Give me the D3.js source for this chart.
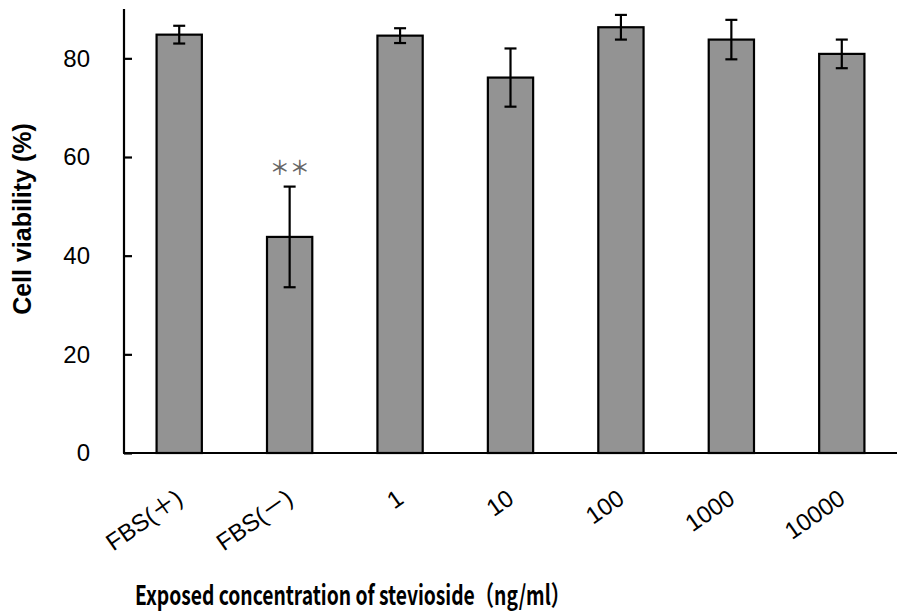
<!DOCTYPE html>
<html>
<head>
<meta charset="utf-8">
<script src="https://cdn.jsdelivr.net/npm/d3@7"></script>
<style>
  body { margin: 0; background: #fff; }
  svg { display: block; }
</style>
</head>
<body>
<svg></svg>
<script>
const size = {w: 897, h: 613};
const svg = d3.select('svg').attr('width', size.w).attr('height', size.h);

// data
const categories = ['FBS(＋)', 'FBS(－)', '1', '10', '100', '1000', '10000'];
const viability = [84.8, 43.8, 84.6, 76.1, 86.3, 83.8, 80.9];
const errors = [1.8, 10.2, 1.5, 5.9, 2.5, 4.0, 2.9];
const yTicks = [0, 20, 40, 60, 80];
const marks = ['', '＊＊', '', '', '', '', ''];

const data = categories.map((c, i) => ({cat: c, v: viability[i], e: errors[i], mark: marks[i]}));

// scales
const x = d3.scaleBand()
    .domain(categories)
    .range([124, 897])
    .paddingInner(0.59)
    .paddingOuter(0.295);

const y = d3.scaleLinear()
    .domain([0, 90])
    .range([453, 9]);

const g = svg.append('g');

// bars
g.selectAll('rect.bar')
    .data(data)
    .join('rect')
    .classed('bar', true)
    .attr('x', d => x(d.cat))
    .attr('y', d => y(d.v))
    .attr('width', x.bandwidth())
    .attr('height', d => y(0) - y(d.v))
    .attr('fill', '#939393')
    .attr('stroke', '#000')
    .attr('stroke-width', 2.2);

// error bars
const errG = g.selectAll('g.err')
    .data(data)
    .join('g')
    .classed('err', true)
    .attr('stroke', '#000')
    .attr('stroke-width', 2.2);

errG.append('line')
    .attr('x1', d => x(d.cat) + x.bandwidth() / 2)
    .attr('x2', d => x(d.cat) + x.bandwidth() / 2)
    .attr('y1', d => y(d.v + d.e))
    .attr('y2', d => y(d.v - d.e));

errG.selectAll('line.cap')
    .data(d => [d.v + d.e, d.v - d.e].map(v => ({cat: d.cat, v: v})))
    .join('line')
    .classed('cap', true)
    .attr('x1', d => x(d.cat) + x.bandwidth() / 2 - 6)
    .attr('x2', d => x(d.cat) + x.bandwidth() / 2 + 6)
    .attr('y1', d => y(d.v))
    .attr('y2', d => y(d.v));

// significance marks
g.selectAll('text.mark')
    .data(data.filter(d => d.mark))
    .join('text')
    .classed('mark', true)
    .attr('x', d => x(d.cat) + x.bandwidth() / 2)
    .attr('y', d => y(d.v + d.e) - 12)
    .attr('text-anchor', 'middle')
    .attr('fill', '#666')
    .style('font-family', '"Noto Sans CJK JP", sans-serif')
    .style('font-weight', 500)
    .style('font-size', '20px')
    .text(d => d.mark);

// y axis
const yAxis = d3.axisLeft(y)
    .tickValues(yTicks)
    .tickSizeInner(-8)
    .tickSizeOuter(0)
    .tickPadding(34);

const yG = svg.append('g')
    .attr('transform', 'translate(124,0)')
    .call(yAxis);
yG.select('.domain').attr('stroke-width', 2.2).attr('d', `M0,${y(90)}V${y(0)}`);
yG.selectAll('.tick line').attr('stroke-width', 2.2);
yG.selectAll('.tick text')
    .style('font-family', 'Liberation Sans, Arial, sans-serif')
    .style('font-size', '24px')
    .attr('fill', '#000');

// x axis (line only, no ticks)
const xAxis = d3.axisBottom(x).tickSize(0).tickPadding(0);
const xG = svg.append('g')
    .attr('transform', `translate(0,${y(0)})`)
    .call(xAxis);
xG.select('.domain').attr('stroke-width', 2.2).attr('d', `M123,0H897`);
xG.selectAll('.tick text')
    .attr('y', 0)
    .attr('dy', 0)
    .attr('transform', 'translate(5,49) rotate(-35)')
    .attr('text-anchor', 'end')
    .style('font-family', 'Liberation Sans, Arial, "Noto Sans CJK JP", sans-serif')
    .style('font-size', '24px')
    .attr('fill', '#000');

// axis titles
svg.append('text')
    .attr('transform', `translate(31,${(y(0) + y(90)) / 2 - 12}) rotate(-90)`)
    .attr('text-anchor', 'middle')
    .style('font-family', 'Liberation Sans, Arial, sans-serif')
    .style('font-weight', 'bold')
    .style('font-size', '25px')
    .text('Cell viability (%)');

svg.append('text')
    .attr('x', 135)
    .attr('y', 605)
    .attr('textLength', 435)
    .attr('lengthAdjust', 'spacingAndGlyphs')
    .style('font-family', '"Noto Sans CJK JP", sans-serif')
    .style('font-weight', 700)
    .style('font-size', '27px')
    .text('Exposed concentration of stevioside（ng/ml）');
</script>
</body>
</html>
